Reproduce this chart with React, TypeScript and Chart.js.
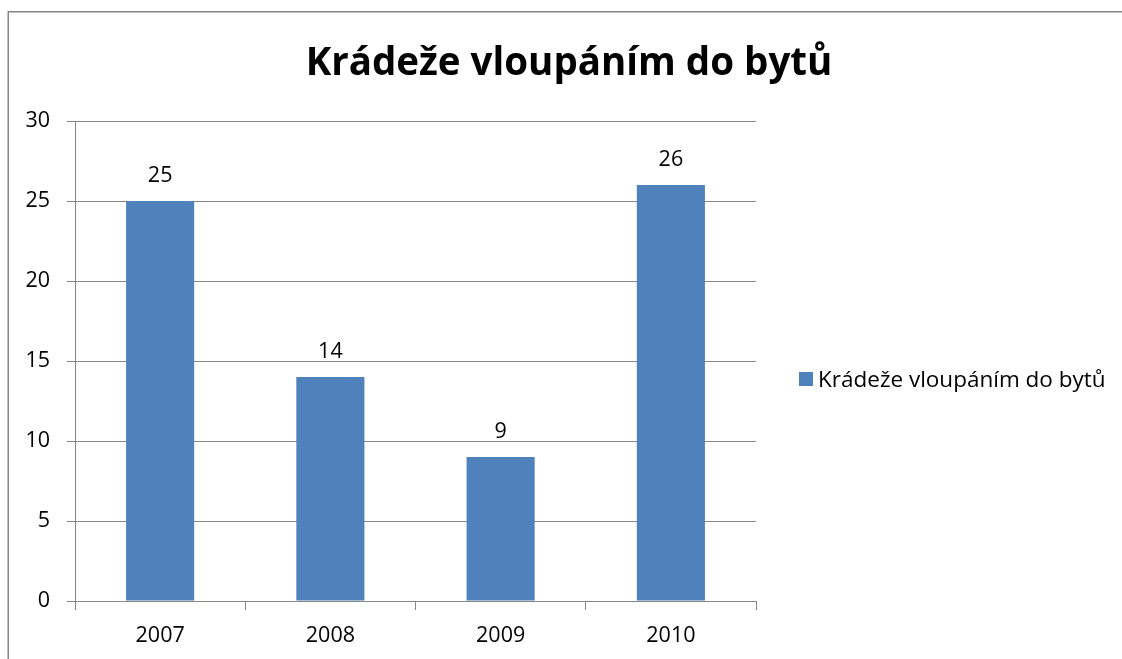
import React, { useEffect, useRef } from "react";
import { Chart, registerables } from "chart.js";

Chart.register(...registerables);

const categories = ["2007", "2008", "2009", "2010"];
const seriesName = "Krádeže vloupáním do bytů";
const values = [25, 14, 9, 26];
const chartTitle = "Krádeže vloupáním do bytů";
const yTicks = [0, 5, 10, 15, 20, 25, 30];

const FONT = "'Open Sans', 'DejaVu Sans', sans-serif";
const BAR = "#4F81BD";
const GRID = "#868686";

const decorPlugin = {
  id: "decor",
  afterDraw(chart: any) {
    const ctx = chart.ctx;
    ctx.save();
    // outer border
    ctx.strokeStyle = GRID;
    ctx.lineWidth = 1.5;
    ctx.beginPath();
    ctx.moveTo(1122, 11.75);
    ctx.lineTo(8.25, 11.75);
    ctx.lineTo(8.25, 659);
    ctx.stroke();
    // title
    ctx.fillStyle = "#000";
    ctx.font = `bold 38.5px ${FONT}`;
    ctx.textAlign = "center";
    ctx.textBaseline = "alphabetic";
    ctx.fillText(chartTitle, 569, 75);
    // legend
    ctx.fillStyle = BAR;
    ctx.fillRect(799, 372, 14, 14);
    ctx.fillStyle = "#000";
    ctx.font = `22.5px ${FONT}`;
    ctx.textAlign = "left";
    ctx.fillText(seriesName, 818, 387);
    // data labels
    const meta = chart.getDatasetMeta(0);
    ctx.font = `21.5px ${FONT}`;
    ctx.textAlign = "center";
    meta.data.forEach((bar: any, i: number) => {
      ctx.fillText(String(values[i]), bar.x, bar.y - 19);
    });
    ctx.restore();
  },
};

export default function App() {
  const ref = useRef<HTMLCanvasElement>(null);
  useEffect(() => {
    const chart = new Chart(ref.current!, {
      type: "bar",
      data: {
        labels: categories,
        datasets: [
          {
            label: seriesName,
            data: values,
            backgroundColor: BAR,
            borderWidth: 0,
            categoryPercentage: 1,
            barPercentage: 0.4,
          },
        ],
      },
      options: {
        animation: false,
        responsive: false,
        maintainAspectRatio: false,
        layout: { padding: { left: 8, top: 121, right: 366, bottom: 0 } },
        plugins: { legend: { display: false }, title: { display: false }, tooltip: { enabled: false } },
        scales: {
          x: {
            offset: true,
            grid: { offset: true, drawOnChartArea: false, drawTicks: true, tickLength: 9, color: GRID, lineWidth: 1 },
            border: { color: GRID, width: 1 },
            ticks: { color: "#000", font: { family: FONT, size: 21.5 }, padding: 13, maxRotation: 0 },
            afterFit: (s: any) => { s.height = 58; },
          },
          y: {
            min: 0,
            max: 30,
            afterBuildTicks: (s: any) => { s.ticks = yTicks.map((v) => ({ value: v })); },
            grid: { color: GRID, lineWidth: 1, tickLength: 8 },
            border: { color: GRID, width: 1 },
            ticks: { color: "#000", font: { family: FONT, size: 21.5 }, padding: 17 },
            afterFit: (s: any) => { s.width = 67; },
          },
        },
      },
      plugins: [decorPlugin],
    });
    return () => chart.destroy();
  }, []);
  return (
    <div style={{ position: "fixed", left: 0, top: 0, width: 1122, height: 659, background: "#fff" }}>
      <canvas ref={ref} width={1122} height={659} style={{ width: 1122, height: 659 }} />
    </div>
  );
}
